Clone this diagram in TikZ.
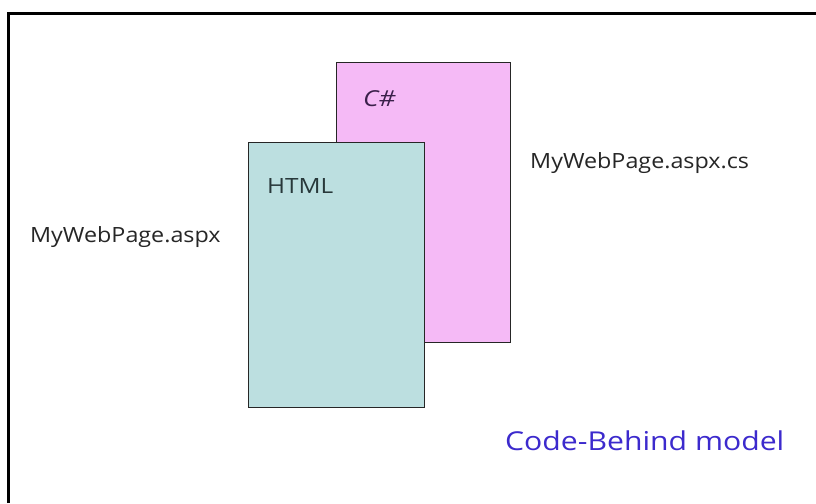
\documentclass[tikz,border=0pt]{standalone}
\usepackage{fontspec}
\setmainfont{Open Sans}
% widen a run of text horizontally
\newcommand{\widetext}[2]{\scalebox{#1}[1]{#2}}
\begin{document}
\begin{tikzpicture}[x=1pt,y=-1pt,
  page/.style={draw=black!85, line width=1pt, anchor=north west, inner sep=0pt},
  caption/.style={font=\fontsize{21}{24}\selectfont, text=black!85, inner sep=0pt, anchor=base west},
  lang/.style={font=\fontsize{21}{24}\selectfont, inner sep=0pt, anchor=base west}
]
  \useasboundingbox (0,0) rectangle (816,503);
  \fill[white] (0,0) rectangle (816,503);
  % frame (only the top and left edges fall inside the page)
  \draw[line width=2.2pt] (8.5,503) -- (8.5,13.5) -- (816,13.5);

  % code-behind file (back)
  \node[page, fill={rgb,255:red,245;green,186;blue,246}, minimum width=174pt, minimum height=280pt] (cs) at (336,62) {};
  % markup file (front)
  \node[page, fill={rgb,255:red,188;green,223;blue,224}, minimum width=176pt, minimum height=265pt] (aspx) at (248,142) {};

  \node[lang, text={rgb,255:red,58;green,32;blue,74}, font=\fontsize{22}{24}\selectfont\itshape] (csharp) at (363,106) {\widetext{1.2}{C\#}};
  \node[lang, text={rgb,255:red,40;green,56;blue,58}] (html) at (267,193) {\widetext{1.16}{HTML}};

  \node[caption] (aspxname) at (30,242) {\widetext{1.11}{MyWebPage.aspx}};
  \node[caption] (csname) at (530,168) {\widetext{1.11}{MyWebPage.aspx.cs}};

  \node[anchor=base west, inner sep=0pt, font=\fontsize{26}{30}\selectfont,
        text={rgb,255:red,60;green,42;blue,205}] (model) at (505,450) {\widetext{1.16}{Code-Behind model}};
\end{tikzpicture}
\end{document}
